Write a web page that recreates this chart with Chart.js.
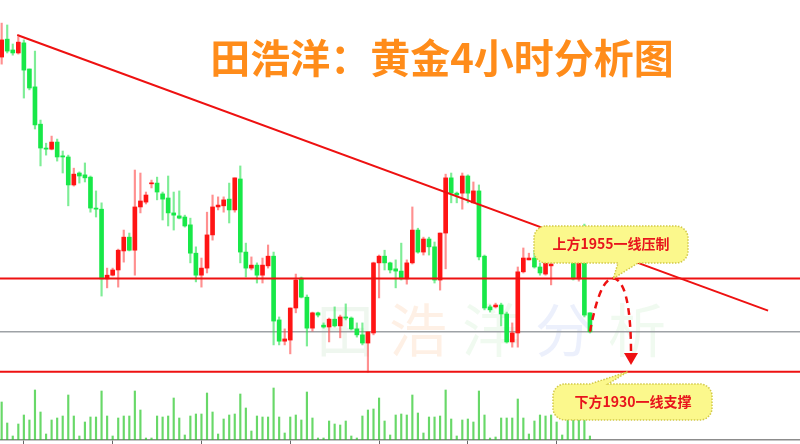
<!DOCTYPE html>
<html>
<head>
<meta charset="utf-8">
<script src="https://cdn.jsdelivr.net/npm/chart.js@4.4.0/dist/chart.umd.min.js"></script>
<style>body{margin:0;background:#fff}</style>
</head>
<body>
<canvas id="chart" width="800" height="444"></canvas>
<script>
// 4h candles, index 0..106
let opens = [2014.4, 2019.2, 2016.3, 2015.5, 2018.2, 2011.2, 2006.4, 1996.4, 1990.0, 1989.7,
  1991.6, 1987.9, 1987.6, 1980.1, 1983.3, 1982.8, 1982.2, 1973.9, 1973.6, 1954.9,
  1955.9, 1957.3, 1962.4, 1966.1, 1962.6, 1974.2, 1975.5, 1980.4, 1980.6, 1977.7,
  1976.6, 1972.6, 1971.8, 1971.5, 1969.4, 1961.8, 1955.9, 1957.8, 1966.7, 1974.2,
  1974.5, 1976.3, 1973.4, 1981.7, 1962.1, 1957.8, 1958.6, 1955.9, 1958.4, 1961.0,
  1943.9, 1938.2, 1938.5, 1947.1, 1955.1, 1950.0, 1941.7, 1945.8, 1942.5, 1942.0,
  1944.1, 1942.3, 1944.7, 1944.4, 1941.5, 1939.9, 1937.7, 1940.4, 1959.2, 1961.0,
  1959.2, 1957.6, 1957.0, 1954.9, 1959.2, 1968.0, 1962.1, 1965.6, 1963.5, 1954.6,
  1967.2, 1982.0, 1977.9, 1977.9, 1982.5, 1975.3, 1978.5, 1961.0, 1947.4, 1947.4,
  1947.9, 1945.5, 1938.0, 1940.4, 1956.8, 1960.0, 1960.5, 1958.1, 1956.2, 1958.4,
  1960.5, 1962.6, 1960.5, 1960.8, 1954.9, 1960.8, 1945.8];
let highs = [2023.5, 2023.0, 2017.9, 2019.8, 2019.0, 2011.2, 2016.0, 1997.5, 1991.3, 1993.2,
  1992.4, 1989.2, 1988.1, 1984.6, 1983.6, 1986.0, 1982.5, 1978.5, 1975.3, 1957.8,
  1957.8, 1962.9, 1968.0, 1967.2, 1984.1, 1983.3, 1978.2, 1981.4, 1982.2, 1978.2,
  1982.5, 1978.2, 1978.5, 1972.0, 1971.2, 1963.5, 1960.5, 1972.8, 1977.4, 1976.9,
  1976.9, 1980.6, 1982.0, 1985.2, 1964.5, 1960.8, 1959.2, 1960.5, 1964.0, 1962.1,
  1944.7, 1941.5, 1947.1, 1956.2, 1955.4, 1950.6, 1946.0, 1946.0, 1943.1, 1944.4,
  1947.4, 1945.2, 1948.2, 1944.7, 1943.1, 1943.1, 1940.7, 1959.4, 1961.3, 1962.6,
  1959.4, 1960.0, 1964.5, 1960.0, 1974.2, 1968.5, 1966.1, 1966.1, 1964.8, 1967.2,
  1983.0, 1983.3, 1978.2, 1983.3, 1982.8, 1980.9, 1980.1, 1961.3, 1947.9, 1948.4,
  1948.4, 1946.0, 1943.1, 1958.1, 1963.2, 1961.8, 1962.6, 1959.2, 1960.0, 1959.4,
  1964.0, 1964.0, 1964.8, 1962.6, 1962.6, 1969.6, 1945.8];
let lows = [2012.5, 2015.5, 2014.9, 2015.2, 2003.4, 2005.6, 1995.1, 1985.2, 1988.1, 1989.5,
  1986.5, 1983.3, 1974.5, 1979.8, 1980.6, 1980.9, 1972.8, 1971.5, 1950.3, 1952.5,
  1955.7, 1952.7, 1959.4, 1962.4, 1955.9, 1972.6, 1975.0, 1979.3, 1976.1, 1970.7,
  1969.1, 1968.0, 1971.0, 1968.8, 1959.2, 1954.1, 1952.7, 1956.5, 1965.3, 1973.4,
  1972.8, 1969.9, 1972.8, 1959.2, 1955.4, 1957.3, 1953.8, 1953.8, 1957.8, 1937.2,
  1937.2, 1937.2, 1934.8, 1945.8, 1949.8, 1936.9, 1940.9, 1944.7, 1941.7, 1938.0,
  1942.0, 1939.1, 1943.9, 1941.2, 1939.3, 1937.2, 1929.9, 1939.9, 1949.8, 1957.3,
  1956.5, 1952.5, 1954.6, 1953.5, 1958.9, 1961.8, 1961.3, 1961.3, 1953.8, 1951.9,
  1957.6, 1975.3, 1975.3, 1973.6, 1975.3, 1975.3, 1960.0, 1946.6, 1946.0, 1947.1,
  1942.3, 1937.7, 1936.6, 1936.6, 1956.5, 1960.0, 1957.8, 1955.9, 1955.9, 1953.3,
  1959.4, 1959.7, 1960.0, 1954.6, 1954.3, 1944.7, 1940.4];
let closes = [2019.0, 2016.0, 2015.5, 2018.4, 2010.9, 2006.1, 1996.2, 1990.0, 1989.7, 1991.6,
  1987.6, 1987.6, 1980.1, 1983.0, 1982.5, 1982.0, 1973.9, 1973.6, 1954.9, 1955.9,
  1957.3, 1962.6, 1966.1, 1962.6, 1974.2, 1975.8, 1977.4, 1980.6, 1978.2, 1976.3,
  1972.6, 1972.0, 1971.2, 1969.1, 1961.8, 1955.9, 1957.8, 1966.7, 1974.2, 1974.7,
  1976.1, 1973.4, 1982.0, 1962.1, 1957.8, 1958.6, 1955.9, 1958.6, 1961.0, 1943.6,
  1938.2, 1938.8, 1947.1, 1954.6, 1950.0, 1941.7, 1945.8, 1945.2, 1942.0, 1944.1,
  1942.3, 1944.7, 1944.4, 1941.5, 1939.9, 1937.7, 1940.7, 1959.2, 1961.0, 1959.2,
  1957.3, 1957.0, 1954.9, 1959.2, 1968.0, 1962.1, 1965.6, 1963.5, 1954.6, 1967.2,
  1982.0, 1977.9, 1977.4, 1982.5, 1977.9, 1978.5, 1960.8, 1947.1, 1946.6, 1947.9,
  1945.5, 1938.0, 1940.4, 1956.8, 1960.5, 1960.5, 1958.1, 1956.5, 1959.2, 1958.9,
  1962.6, 1961.3, 1963.2, 1954.9, 1960.8, 1945.2, 1940.7];
let volumes = [3800, 1700, 400, 1600, 2500, 2000, 5000, 2800, 600, 2000,
  2200, 2400, 4500, 2400, 400, 1800, 2300, 2300, 4900, 2400,
  400, 2200, 2400, 2400, 4900, 3000, 200, 200, 2400, 2300,
  2400, 4200, 2200, 500, 2400, 2600, 2600, 4700, 2800, 600,
  2100, 2500, 2600, 4600, 3200, 900, 2400, 2300, 2300, 5200,
  2300, 700, 2300, 2500, 2000, 4800, 2200, 200, 200, 1900,
  1600, 1500, 1900, 400, 200, 2400, 3000, 3100, 4200, 1900,
  500, 2500, 2600, 2500, 4500, 2700, 700, 2300, 2300, 2400,
  5000, 2100, 400, 2000, 2100, 1800, 4900, 2500, 200, 300,
  2200, 2200, 2200, 4100, 2200, 600, 1900, 2500, 2400, 2500,
  1800, 500, 2200, 2200, 2200, 2000, 400];
let tickIdx = [4, 20, 36, 52, 68, 84, 100];

let resistance = 1955;
let support = 1930;
let lastPrice = 1940.7;
let trendStart = [2.8, 2020.3];
let trendEnd = [138.1, 1946.4];
// expected path: up to resistance then down to support
let pathPeak = [110.2, 1955];
let pathEnd = [113.4, 1931.8];

let xMin = -0.3, xMax = 143.85;
let priceMin = 1911.7, priceMax = 2029.7;

let idx = opens.map((v, i) => i);
let isUp = i => closes[i] >= opens[i];

const cjk = '"Noto Sans CJK SC", sans-serif';

function hLine(v, color, w) {
    return {
        type: 'line',
        data: [{x: xMin, y: v}, {x: xMax, y: v}],
        borderColor: color,
        borderWidth: w,
        pointRadius: 0,
        yAxisID: 'y'
    };
}

function callout(ctx, x, y, w, h, r, side, b1, b2, tip) {
    ctx.beginPath();
    ctx.moveTo(x + r, y);
    if (side == 'top') {
        ctx.lineTo(b1, y);
        ctx.lineTo(tip.x, tip.y);
        ctx.lineTo(b2, y);
    }
    ctx.lineTo(x + w - r, y);
    ctx.arcTo(x + w, y, x + w, y + r, r);
    ctx.lineTo(x + w, y + h - r);
    ctx.arcTo(x + w, y + h, x + w - r, y + h, r);
    if (side == 'bottom') {
        ctx.lineTo(b2, y + h);
        ctx.lineTo(tip.x, tip.y);
        ctx.lineTo(b1, y + h);
    }
    ctx.lineTo(x + r, y + h);
    ctx.arcTo(x, y + h, x, y + h - r, r);
    ctx.lineTo(x, y + r);
    ctx.arcTo(x, y, x + r, y, r);
    ctx.closePath();
    ctx.fillStyle = '#fbf88c';
    ctx.fill();
    ctx.setLineDash([1.5, 1.5]);
    ctx.lineWidth = 1.5;
    ctx.strokeStyle = '#d2c94a';
    ctx.stroke();
    ctx.setLineDash([]);
}

const watermark = {
    id: 'watermark',
    beforeDatasetsDraw(chart) {
        let ctx = chart.ctx;
        ctx.save();
        ctx.font = '58px ' + cjk;
        ctx.textAlign = 'center';
        ctx.textBaseline = 'middle';
        let chars = [['田', 345, 'rgba(120,190,120,0.12)'], ['浩', 418, 'rgba(250,150,70,0.14)'],
            ['洋', 491, 'rgba(120,210,120,0.11)'], ['分', 564, 'rgba(110,140,230,0.13)'],
            ['析', 637, 'rgba(120,210,120,0.11)']];
        chars.forEach(c => {
            ctx.fillStyle = c[2];
            ctx.fillText(c[0], c[1], 330);
        });
        ctx.restore();
    }
};

const overlay = {
    id: 'overlay',
    afterDatasetsDraw(chart) {
        let ctx = chart.ctx;
        let xs = chart.scales.x, ys = chart.scales.y;
        let pt = p => ({x: xs.getPixelForValue(p[0]), y: ys.getPixelForValue(p[1])});
        ctx.save();

        // title
        ctx.font = 'bold 40px ' + cjk;
        ctx.fillStyle = '#ff8c1a';
        ctx.textAlign = 'center';
        ctx.textBaseline = 'middle';
        ctx.fillText('田浩洋：黄金4小时分析图', 442, 58);

        // dashed path
        let p0 = pt([idx.length - 1, closes[closes.length - 1]]);
        let p1 = pt(pathPeak);
        let p2 = pt(pathEnd);
        ctx.strokeStyle = '#ee1111';
        ctx.lineWidth = 2.5;
        ctx.setLineDash([7, 5]);
        ctx.beginPath();
        ctx.moveTo(p0.x, p0.y);
        ctx.bezierCurveTo(p0.x + 6, p0.y - 32, p1.x - 10, p1.y, p1.x, p1.y);
        ctx.bezierCurveTo(p1.x + 10, p1.y, p2.x, p1.y + 22, p2.x, p2.y - 11);
        ctx.stroke();
        ctx.setLineDash([]);
        ctx.fillStyle = '#ee1111';
        ctx.beginPath();
        ctx.moveTo(p2.x - 7, p2.y - 12);
        ctx.lineTo(p2.x + 7, p2.y - 12);
        ctx.lineTo(p2.x, p2.y);
        ctx.closePath();
        ctx.fill();

        // callouts
        let tip1 = pt([110.2, resistance]);
        callout(ctx, 534, 226, 154, 37, 12, 'bottom', 618, 638, tip1);
        let tip2 = pt([112.8, support]);
        callout(ctx, 553, 384, 159, 36, 12, 'top', 590, 608, tip2);

        ctx.font = 'bold 14px ' + cjk;
        ctx.fillStyle = '#e8141c';
        ctx.fillText('上方1955一线压制', 611, 244);
        ctx.fillText('下方1930一线支撑', 633, 402);
        ctx.restore();
    }
};

let ctx = document.getElementById('chart').getContext('2d');

let chart = new Chart(ctx, {
    type: 'bar',
    data: {
        datasets: [
            Object.assign(hLine(resistance, '#ee1111', 2), {order: 0}),
            Object.assign(hLine(support, '#ee1111', 2), {order: 0}),
            {
                type: 'line',
                data: [{x: trendStart[0], y: trendStart[1]}, {x: trendEnd[0], y: trendEnd[1]}],
                borderColor: '#ee1111',
                borderWidth: 2,
                pointRadius: 0,
                yAxisID: 'y',
                order: 0
            },
            {
                label: 'body',
                data: idx.map(i => ({x: i, y: [opens[i], closes[i]]})),
                backgroundColor: idx.map(i => isUp(i) ? '#ff1414' : '#18e848'),
                barThickness: 4,
                minBarLength: 1,
                grouped: false,
                yAxisID: 'y',
                order: 1
            },
            {
                label: 'wick',
                data: idx.map(i => ({x: i, y: [lows[i], highs[i]]})),
                backgroundColor: idx.map(i => isUp(i) ? 'rgba(255,70,70,0.6)' : 'rgba(40,225,80,0.6)'),
                barThickness: 1.5,
                grouped: false,
                yAxisID: 'y',
                order: 2
            },
            Object.assign(hLine(lastPrice, '#9ea2a6', 1.5), {order: 3}),
            {
                label: 'volume',
                data: idx.map(i => ({x: i, y: volumes[i]})),
                backgroundColor: 'rgba(40,200,40,0.7)',
                barThickness: 1.5,
                grouped: false,
                yAxisID: 'yv',
                order: 4
            }
        ]
    },
    options: {
        responsive: false,
        animation: false,
        layout: {padding: 0},
        plugins: {
            legend: {display: false},
            tooltip: {enabled: false}
        },
        scales: {
            x: {
                type: 'linear',
                min: xMin,
                max: xMax,
                offset: false,
                afterBuildTicks: s => { s.ticks = tickIdx.map(v => ({value: v})); },
                ticks: {display: false},
                grid: {offset: false, drawOnChartArea: false, drawTicks: true, tickLength: 4, color: '#666', lineWidth: 1},
                border: {display: true, color: '#8c8c8c', width: 1.5}
            },
            y: {display: false, min: priceMin, max: priceMax},
            yv: {display: false, min: 0, max: 44000}
        }
    },
    plugins: [watermark, overlay]
});
</script>
</body>
</html>
